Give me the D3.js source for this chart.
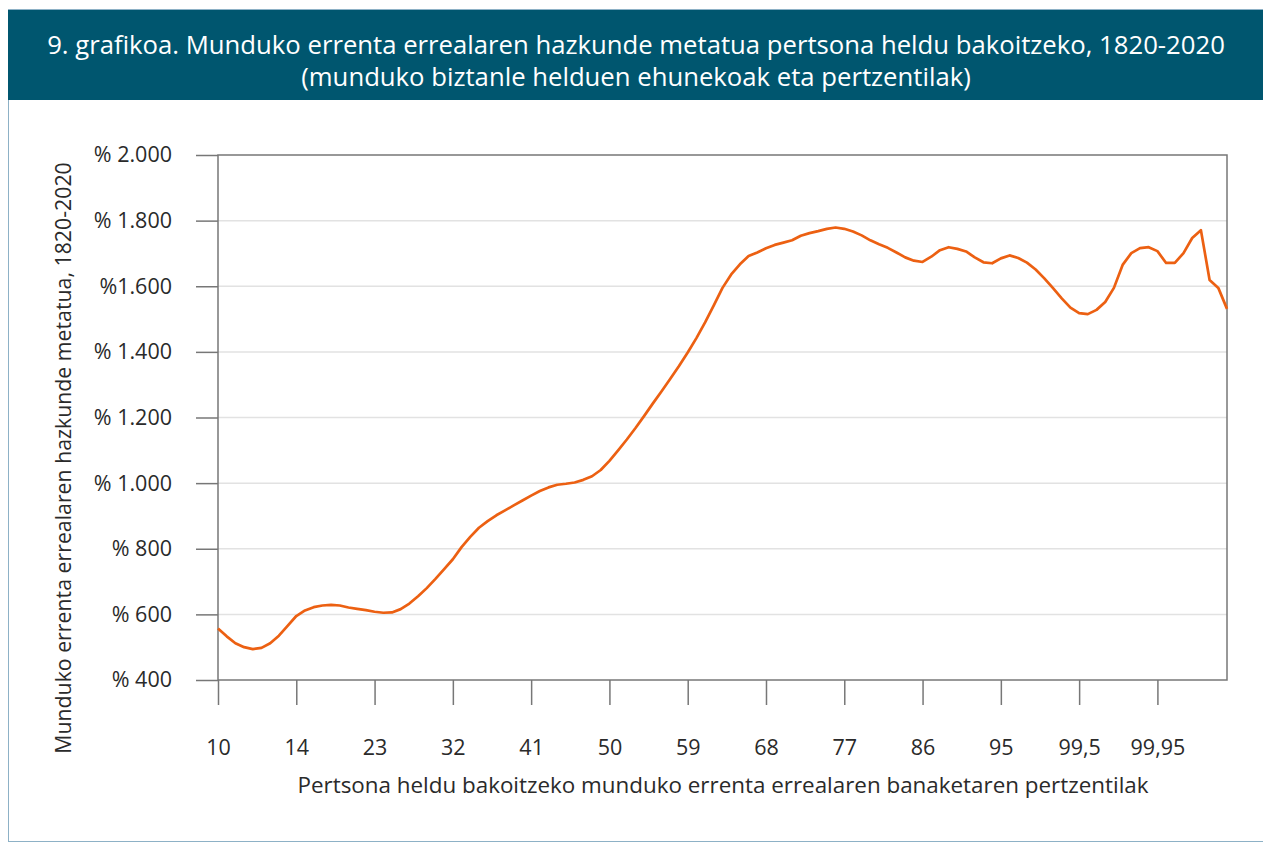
<!DOCTYPE html>
<html>
<head>
<meta charset="utf-8">
<script src="https://cdnjs.cloudflare.com/ajax/libs/d3/7.8.5/d3.min.js"></script>
<style>
  body { margin: 0; background: #fff; }
  text { font-family: "Open Sans", "Noto Sans", sans-serif; }
</style>
</head>
<body>
<div id="chart"></div>
<script>
// growth values, one per percentile group (in %)
var growth = [
  557, 533, 512, 500, 494, 498, 512, 535, 565, 595,
  612, 622, 627, 629, 627, 621, 617, 613, 608, 605,
  606, 616, 633, 655, 680, 708, 738, 768, 805, 836,
  864, 884, 902, 917, 932, 947, 962, 976, 987, 995,
  998, 1002, 1010, 1021, 1040, 1068, 1100, 1133, 1168, 1205,
  1243, 1280, 1318, 1357, 1398, 1442, 1490, 1542, 1595, 1636,
  1667, 1692, 1703, 1716, 1726, 1733, 1740, 1754, 1762, 1768,
  1775, 1779, 1775, 1767, 1755, 1740, 1728, 1717, 1703, 1688,
  1678, 1674, 1690, 1710, 1719, 1714, 1706, 1688, 1673, 1670,
  1685, 1694, 1686, 1672, 1651, 1624, 1594, 1563, 1535, 1518,
  1515, 1528, 1552, 1595, 1665, 1701, 1716, 1719, 1707, 1671,
  1671, 1701, 1747, 1771, 1619, 1595, 1531
];

// category positions that carry a label, and the labels themselves
var tickIdx = [0, 9, 18, 27, 36, 45, 54, 63, 72, 81, 90, 99, 108];
var tickLabels = ["10", "14", "23", "32", "41", "50", "59", "68", "77", "86", "95", "99,5", "99,95"];

var yTicks = [400, 600, 800, 1000, 1200, 1400, 1600, 1800, 2000];
var yLabels = ["% 400", "% 600", "% 800", "% 1.000", "% 1.200", "% 1.400", "%1.600", "% 1.800", "% 2.000"];

var title1 = "9. grafikoa. Munduko errenta errealaren hazkunde metatua pertsona heldu bakoitzeko, 1820-2020";
var title2 = "(munduko biztanle helduen ehunekoak eta pertzentilak)";
var xTitle = "Pertsona heldu bakoitzeko munduko errenta errealaren banaketaren pertzentilak";
var yTitle = "Munduko errenta errealaren hazkunde metatua, 1820-2020";

var w = 1263;
var h = 843;
var pLeft = 218, pRight = 1227, pTop = 155, pBottom = 680;
var ink = "#2a2a2a";

var svg = d3.select("#chart")
            .append("svg")
            .attr("width", w)
            .attr("height", h);

// outer frame and title banner
svg.append("rect")
   .attr("x", 8.5).attr("y", 9.5)
   .attr("width", 1262).attr("height", 832)
   .attr("fill", "none")
   .attr("stroke", "#8db1c6")
   .attr("stroke-width", 1);

svg.append("rect")
   .attr("x", 8).attr("y", 10)
   .attr("width", 1255).attr("height", 90)
   .attr("fill", "#00566f");

svg.append("text")
   .attr("x", 636).attr("y", 54)
   .attr("text-anchor", "middle")
   .attr("fill", "#fff")
   .attr("font-size", 25.7)
   .text(title1);

svg.append("text")
   .attr("x", 636).attr("y", 86)
   .attr("text-anchor", "middle")
   .attr("fill", "#fff")
   .attr("font-size", 25.7)
   .text(title2);

var x = d3.scaleLinear().domain([0, growth.length - 1]).range([pLeft, pRight]);
var y = d3.scaleLinear().domain([400, 2000]).range([pBottom, pTop]);

// horizontal gridlines
svg.append("g")
   .selectAll("line")
   .data(yTicks.slice(1, -1))
   .enter()
   .append("line")
   .attr("x1", pLeft).attr("x2", pRight)
   .attr("y1", function(d) { return y(d); })
   .attr("y2", function(d) { return y(d); })
   .attr("stroke", "#e2e2e2")
   .attr("stroke-width", 1.5);

// y axis with outside ticks
var yAxis = d3.axisLeft(y)
              .tickValues(yTicks)
              .tickSize(22)
              .tickPadding(24)
              .tickFormat(function(d, i) { return yLabels[i]; });

var gy = svg.append("g")
            .attr("transform", "translate(" + pLeft + ",0)")
            .call(yAxis);
gy.select(".domain").remove();
gy.selectAll(".tick line").attr("stroke", "#777").attr("stroke-width", 1.5);
gy.selectAll(".tick text")
  .attr("font-size", 21.5)
  .attr("font-family", "'Open Sans', 'Noto Sans', sans-serif")
  .attr("fill", ink);

// x axis, ticks hanging below
var xAxis = d3.axisBottom(x)
              .tickValues(tickIdx)
              .tickSize(25)
              .tickPadding(35)
              .tickFormat(function(d, i) { return tickLabels[i]; });

var gx = svg.append("g")
            .attr("transform", "translate(0," + pBottom + ")")
            .call(xAxis);
gx.select(".domain").remove();
gx.selectAll(".tick line").attr("stroke", "#777").attr("stroke-width", 1.5);
gx.selectAll(".tick text")
  .attr("font-size", 21.5)
  .attr("font-family", "'Open Sans', 'Noto Sans', sans-serif")
  .attr("fill", ink);

// plot frame
svg.append("rect")
   .attr("x", pLeft).attr("y", pTop)
   .attr("width", pRight - pLeft).attr("height", pBottom - pTop)
   .attr("fill", "none")
   .attr("stroke", "#777")
   .attr("stroke-width", 1.5);

// the growth line
var line = d3.line()
             .x(function(d, i) { return x(i); })
             .y(function(d) { return y(d); });

svg.append("path")
   .datum(growth)
   .attr("d", line)
   .attr("fill", "none")
   .attr("stroke", "#ec6012")
   .attr("stroke-width", 2.7)
   .attr("stroke-linejoin", "round");

// axis titles
svg.append("text")
   .attr("x", 723).attr("y", 793)
   .attr("text-anchor", "middle")
   .attr("font-size", 22.4)
   .attr("fill", ink)
   .text(xTitle);

svg.append("text")
   .attr("transform", "translate(71,458) rotate(-90)")
   .attr("text-anchor", "middle")
   .attr("font-size", 21.3)
   .attr("fill", ink)
   .text(yTitle);
</script>
</body>
</html>
